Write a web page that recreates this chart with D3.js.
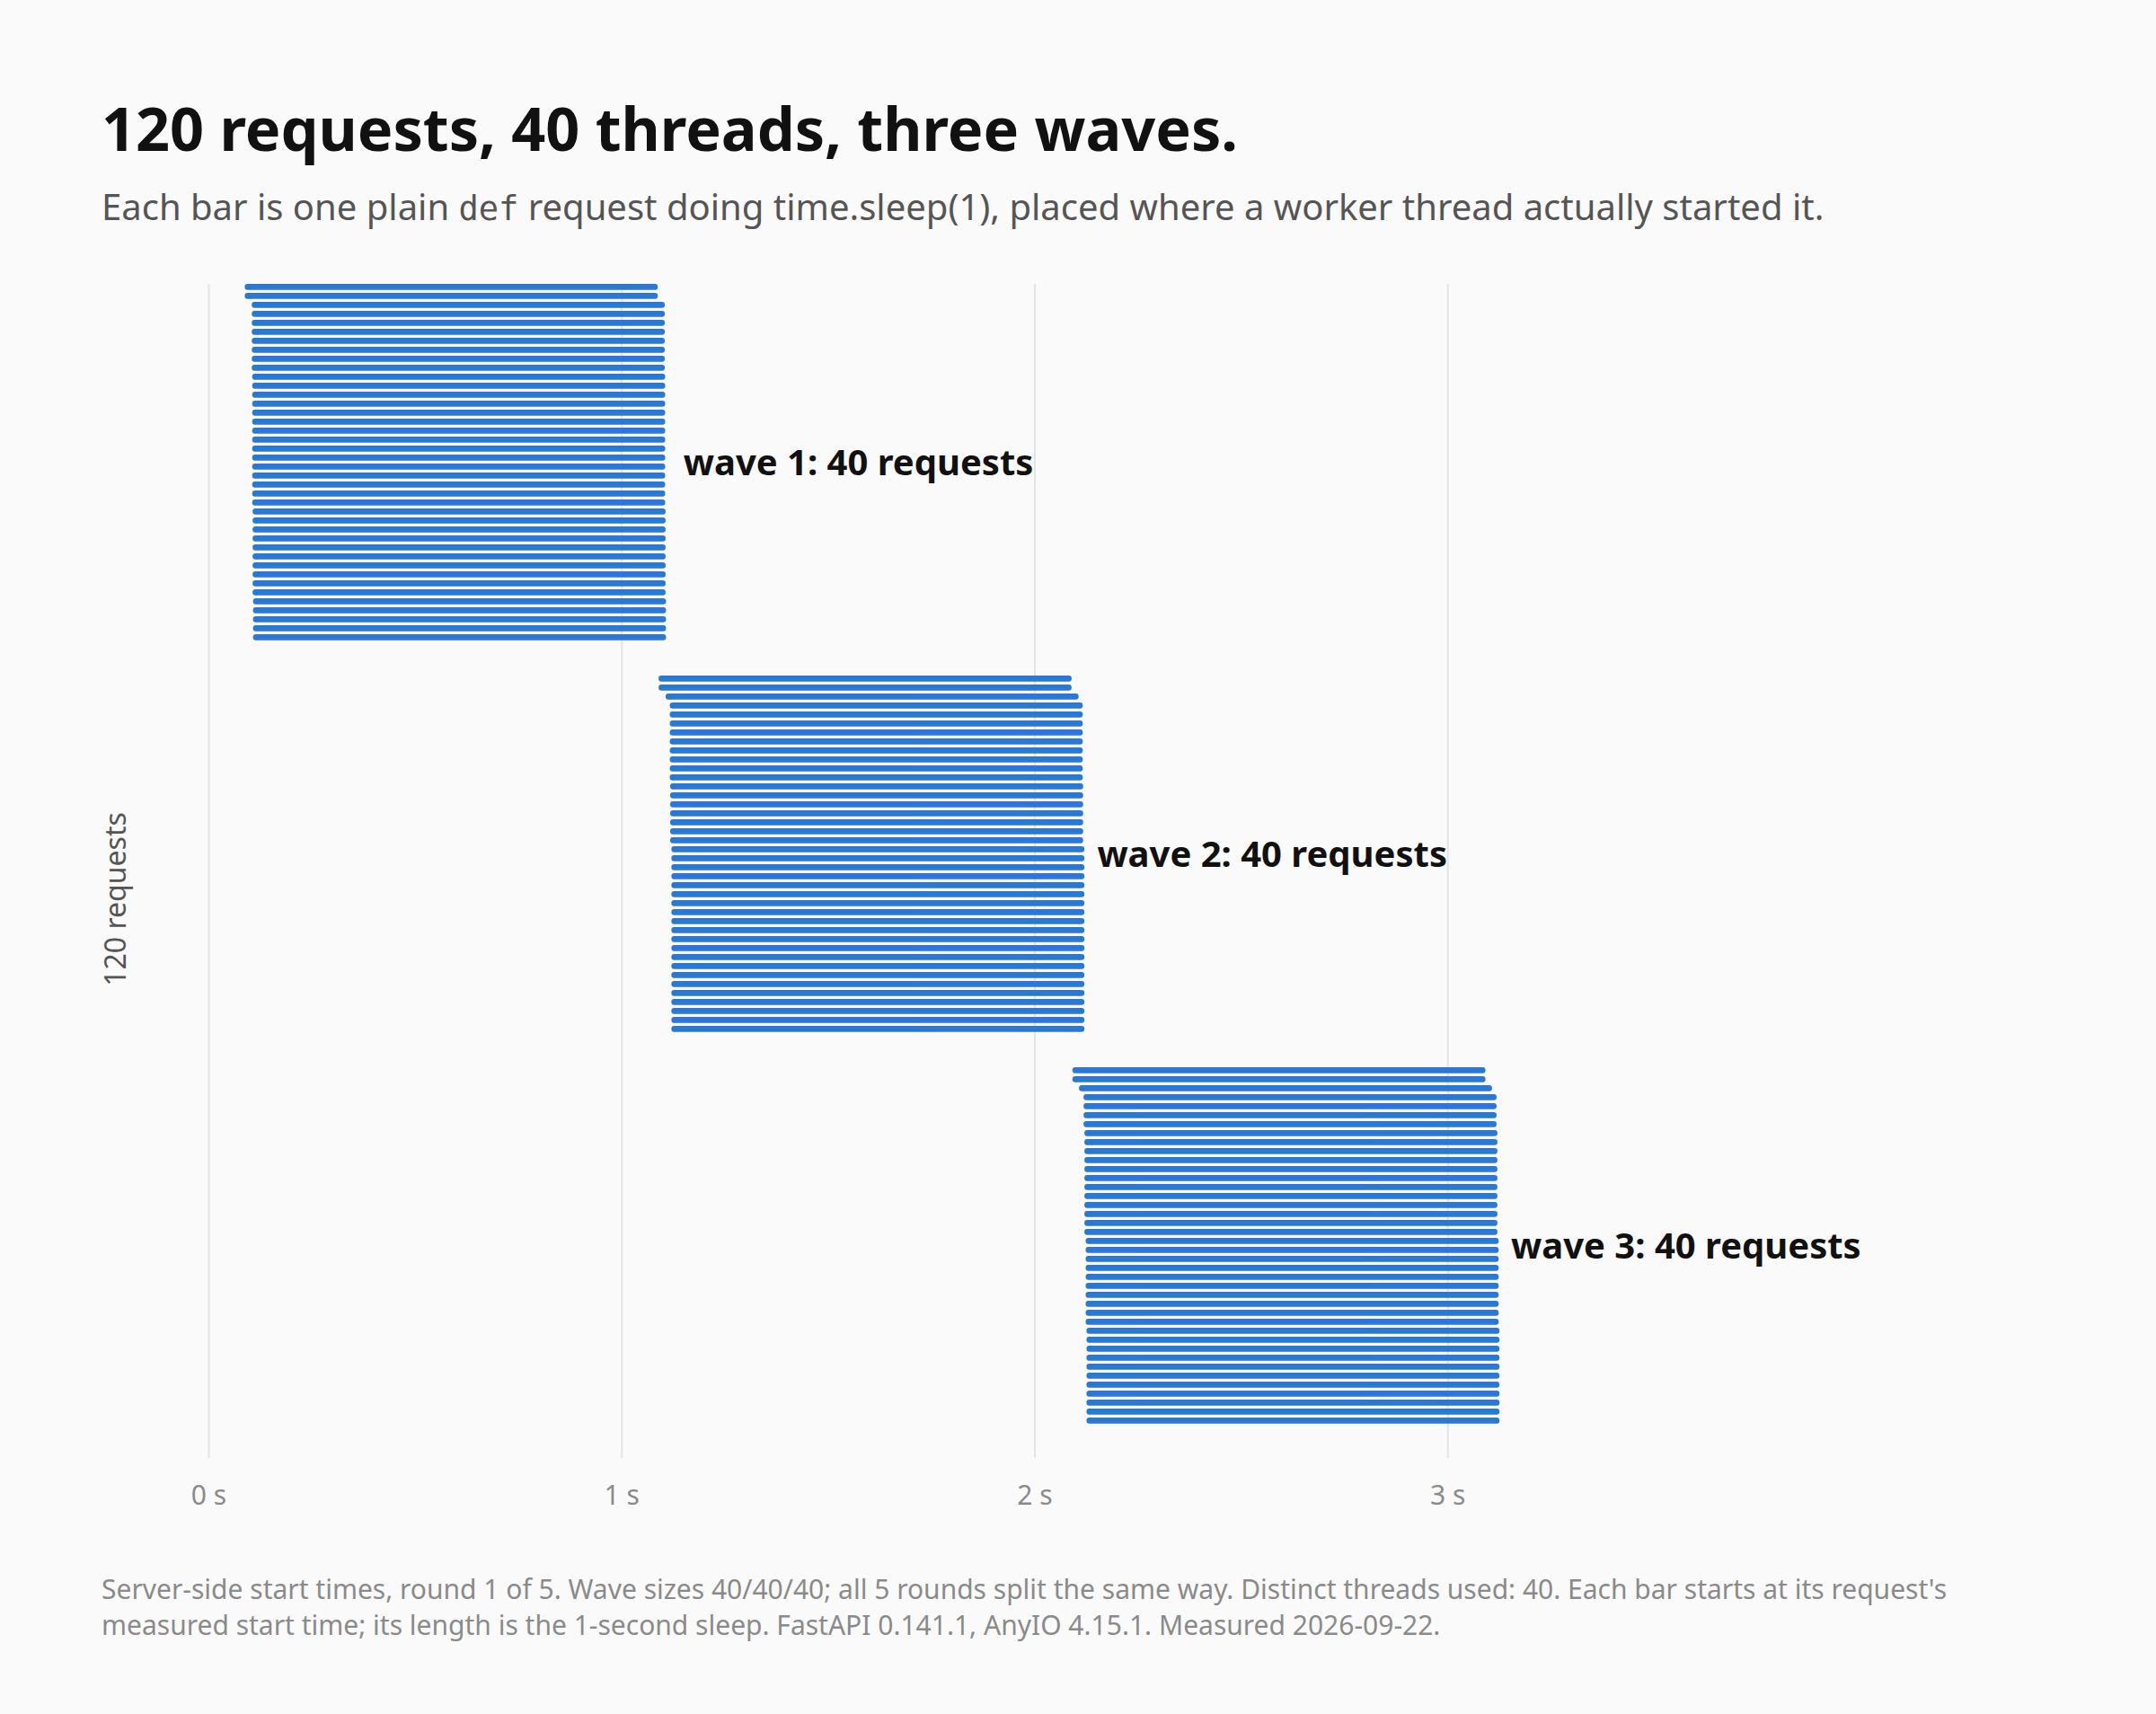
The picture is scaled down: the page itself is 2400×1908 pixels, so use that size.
<!DOCTYPE html>
<html>
<head>
<meta charset="utf-8">
<script src="https://cdn.jsdelivr.net/npm/d3@7"></script>
<style>
  html, body { margin: 0; padding: 0; background: #fafafa; }
  svg { display: block; }
</style>
</head>
<body>
<div id="chart"></div>
<script>
// start times (seconds) read per bar, one array per wave
var wave1Starts = [0.088, 0.088, 0.105, 0.105, 0.105, 0.105, 0.105, 0.105, 0.105, 0.105,
  0.106, 0.106, 0.106, 0.106, 0.106, 0.106, 0.106, 0.106, 0.106, 0.106,
  0.106, 0.106, 0.106, 0.106, 0.106, 0.107, 0.107, 0.107, 0.107, 0.107,
  0.107, 0.107, 0.107, 0.107, 0.107, 0.108, 0.108, 0.108, 0.108, 0.108];
var wave2Starts = [1.090, 1.090, 1.107, 1.117, 1.117, 1.117, 1.117, 1.117, 1.117, 1.117,
  1.117, 1.117, 1.118, 1.118, 1.118, 1.118, 1.118, 1.118, 1.118, 1.121,
  1.121, 1.121, 1.121, 1.121, 1.121, 1.121, 1.121, 1.121, 1.121, 1.121,
  1.121, 1.121, 1.121, 1.121, 1.121, 1.121, 1.121, 1.121, 1.121, 1.121];
var wave3Starts = [2.092, 2.092, 2.108, 2.119, 2.119, 2.119, 2.119, 2.121, 2.121, 2.121,
  2.121, 2.121, 2.121, 2.121, 2.121, 2.121, 2.121, 2.121, 2.121, 2.124,
  2.124, 2.124, 2.124, 2.124, 2.124, 2.124, 2.124, 2.124, 2.124, 2.126,
  2.126, 2.126, 2.126, 2.126, 2.126, 2.126, 2.126, 2.126, 2.126, 2.126];
var sleepSeconds = 1;
var waveLabels = ["wave 1: 40 requests", "wave 2: 40 requests", "wave 3: 40 requests"];
var tickValues = [0, 1, 2, 3];
var tickLabels = ["0 s", "1 s", "2 s", "3 s"];

//set chart
var svgWidth = 2400;
var svgHeight = 1908;
var plot = { left: 232, right: 2071, top: 316, bottom: 1623 };
var waveGap = 3.6; // extra empty rows between waves
var barH = 6.7;

var svg = d3.select("#chart")
  .append("svg")
  .attr("width", svgWidth)
  .attr("height", svgHeight)
  .attr("viewBox", `0 0 ${svgWidth} ${svgHeight}`)
  .style("font-family", "'Noto Sans', sans-serif");

svg.append("rect")
  .attr("width", svgWidth)
  .attr("height", svgHeight)
  .attr("fill", "#fafafa");

// build rows
var waves = [wave1Starts, wave2Starts, wave3Starts];
var rows = [];
waves.forEach(function (starts, w) {
  starts.forEach(function (s, i) {
    rows.push({ wave: w, row: w * (starts.length + waveGap) + i, start: s, end: s + sleepSeconds });
  });
});

var xScale = d3.scaleLinear()
  .domain([0, 4])
  .range([plot.left, plot.right]);

var yScale = d3.scaleLinear()
  .domain([0, 130])
  .range([319.3, 1619.3]);

// x axis with gridlines
var bottomAxis = d3.axisBottom(xScale)
  .tickValues(tickValues)
  .tickFormat(function (d, i) { return tickLabels[i]; })
  .tickSize(-(plot.bottom - plot.top))
  .tickPadding(31);

var axisG = svg.append("g")
  .attr("transform", `translate(0, ${plot.bottom})`)
  .call(bottomAxis);
axisG.select(".domain").remove();
axisG.selectAll("line")
  .attr("stroke", "#e4e4e2")
  .attr("stroke-width", 2);
axisG.selectAll("text")
  .attr("fill", "#8a8a8a")
  .style("font-size", "30px")
  .style("font-family", "'Noto Sans', sans-serif");

// bars
svg.append("g").selectAll("rect")
  .data(rows)
  .enter()
  .append("rect")
  .attr("x", d => xScale(d.start))
  .attr("y", d => yScale(d.row) - barH / 2)
  .attr("width", d => xScale(d.end) - xScale(d.start))
  .attr("height", barH)
  .attr("rx", 3)
  .attr("fill", "#2a78d2");

// wave labels, placed after the end of the wave's first bar
svg.append("g").selectAll("text")
  .data(waveLabels)
  .enter()
  .append("text")
  .attr("x", function (d, w) {
    return xScale(d3.min(rows.filter(r => r.wave === w), r => r.start) + sleepSeconds) + 28.5;
  })
  .attr("y", function (d, w) {
    var ws = rows.filter(r => r.wave === w);
    return (yScale(ws[0].row) + yScale(ws[ws.length - 1].row)) / 2;
  })
  .attr("dy", "0.36em")
  .attr("font-size", "40px")
  .attr("font-weight", "700")
  .attr("fill", "#111")
  .text(d => d);

// y label
svg.append("text")
  .attr("transform", "translate(140, 1001) rotate(-90)")
  .attr("text-anchor", "middle")
  .attr("font-size", "32px")
  .attr("fill", "#555")
  .text("120 requests");

// title + subtitle
svg.append("text")
  .attr("x", 113)
  .attr("y", 168)
  .attr("font-size", "66.5px")
  .attr("font-weight", "700")
  .attr("fill", "#111")
  .text("120 requests, 40 threads, three waves.");

var sub = svg.append("text")
  .attr("x", 113)
  .attr("y", 245)
  .attr("font-size", "40px")
  .attr("fill", "#555");
sub.append("tspan").text("Each bar is one plain ");
sub.append("tspan").style("font-family", "'DejaVu Sans Mono', monospace").attr("font-size", "37px").text("def");
sub.append("tspan").text(" request doing time.sleep(1), placed where a worker thread actually started it.");

// footer
var footer = [
  "Server-side start times, round 1 of 5. Wave sizes 40/40/40; all 5 rounds split the same way. Distinct threads used: 40. Each bar starts at its request's",
  "measured start time; its length is the 1-second sleep. FastAPI 0.141.1, AnyIO 4.15.1. Measured 2026-09-22."
];
svg.append("g").selectAll("text")
  .data(footer)
  .enter()
  .append("text")
  .attr("x", 113)
  .attr("y", (d, i) => 1780 + i * 40)
  .attr("font-size", "30px")
  .attr("fill", "#8a8a8a")
  .text(d => d);
</script>
</body>
</html>
